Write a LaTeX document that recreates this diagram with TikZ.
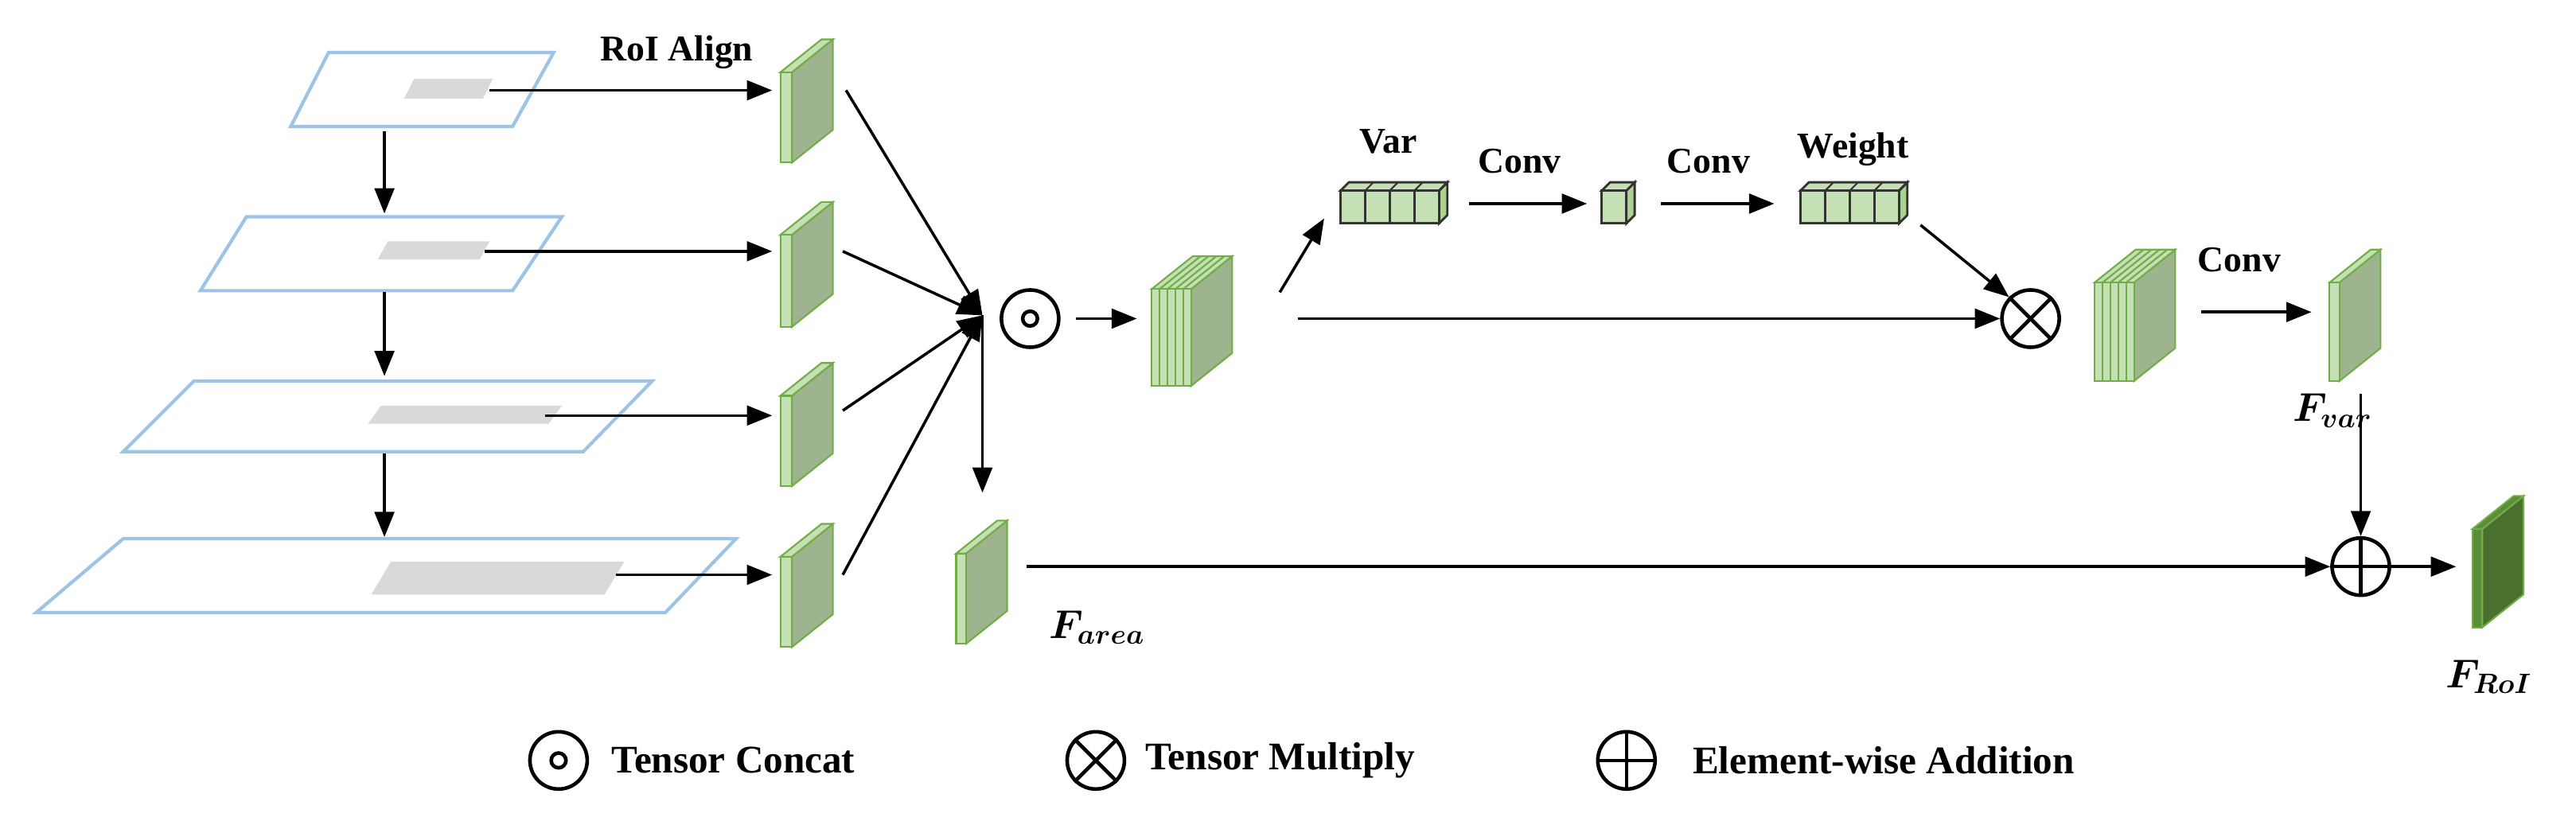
\documentclass[tikz,border=0pt]{standalone}
\usepackage{fontspec}
\usepackage{amsmath,bm}
\setmainfont{Liberation Serif}
\usetikzlibrary{arrows.meta}
\definecolor{gr}{HTML}{70AD47}
\definecolor{lt}{HTML}{C5E0B4}
\definecolor{sd}{HTML}{9DB48E}
\definecolor{dk}{HTML}{5B8C3A}
\definecolor{pl}{HTML}{9DC3E6}
\definecolor{gy}{HTML}{D9D9D9}
\newcommand{\slab}[6]{% x, ytop, ybot, sidefill, frontw, frontfill
 \filldraw[fill=#4,draw=gr,line width=0.6pt] (#1+#5,#2) -- ++(25,-20) -- (#1+#5+25,#3-20) -- (#1+#5,#3) -- cycle;
 \filldraw[fill=#6,draw=gr,line width=0.6pt] (#1,#2) -- ++(25,-20) -- ++(#5,0) -- (#1+#5,#2) -- cycle;
 \filldraw[fill=#6,draw=gr,line width=0.6pt] (#1,#2) rectangle (#1+#5,#3);}
\newcommand{\cube}[4]{% x, ytop, ybot, ncells (cell width 15)
 \filldraw[fill=lt!70!gr,draw=black!80,line width=0.8pt] (#1+#4*15,#2) -- ++(5,-5) -- (#1+#4*15+5,#3-5) -- (#1+#4*15,#3) -- cycle;
 \filldraw[fill=lt,draw=black!80,line width=0.8pt] (#1,#2) -- ++(5,-5) -- (#1+#4*15+5,#2-5) -- (#1+#4*15,#2) -- cycle;
 \filldraw[fill=lt,draw=black!80,line width=0.8pt] (#1,#2) rectangle (#1+#4*15,#3);
 \foreach \i in {1,...,#4}{\draw[black!80,line width=0.8pt] (#1+\i*15,#2) -- (#1+\i*15,#3);
   \draw[black!80,line width=0.6pt] (#1+\i*15,#2) -- ++(5,-5);}}
\begin{document}
\begin{tikzpicture}[x=0.02064cm,y=-0.02064cm,
  arr/.style={-{Triangle[length=9pt,width=7pt]},line width=1pt},
  lbl/.style={font=\fontsize{13}{15}\selectfont\bfseries,inner sep=0},
  op/.style={circle,draw,line width=1.3pt,minimum size=0.72cm,inner sep=0},
  plane/.style={draw=pl,line width=1.2pt}]
\useasboundingbox (0,0) rectangle (1568,502);
% planes
\draw[plane] (200,32) -- (337,32) -- (312,77) -- (177,77) -- cycle;
\fill[gy] (252,48) -- (300,48) -- (294,60) -- (246,60) -- cycle;
\draw[plane] (150,132) -- (342,132) -- (312,177) -- (122,177) -- cycle;
\fill[gy] (236,147) -- (298,147) -- (292,158) -- (230,158) -- cycle;
\draw[plane] (118,232) -- (397,232) -- (355,275) -- (75,275) -- cycle;
\fill[gy] (232,247) -- (342,247) -- (334,258) -- (224,258) -- cycle;
\draw[plane] (75,328) -- (448,328) -- (405,373) -- (22,373) -- cycle;
\fill[gy] (238,342) -- (380,342) -- (368,362) -- (226,362) -- cycle;
\coordinate (p1b) at (234,80); \coordinate (p2t) at (234,130);
\coordinate (p2b) at (234,178); \coordinate (p3t) at (234,229);
\coordinate (p3b) at (234,276); \coordinate (p4t) at (234,327);
\draw[arr] (p1b) -- (p2t); \draw[arr] (p2b) -- (p3t); \draw[arr] (p3b) -- (p4t);
% feature maps
\slab{475}{44}{99}{sd}{7}{lt}
\slab{475}{143}{199}{sd}{7}{lt}
\slab{475}{241}{296}{sd}{7}{lt}
\slab{475}{339}{394}{sd}{7}{lt}
\node[lbl] (roi) at (412,32) {RoI Align};
\coordinate (g1) at (298,55); \coordinate (m1) at (470,55);
\coordinate (g2) at (295,153); \coordinate (m2) at (470,153);
\coordinate (g3) at (332,253); \coordinate (m3) at (470,253);
\coordinate (g4) at (375,350); \coordinate (m4) at (470,350);
\foreach \i in {1,...,4}{\draw[arr] (g\i) -- (m\i);}
% concat
\node[op] (cat) at (627,194) {};
\fill[white,draw=black,line width=1.3pt] (cat) circle (4.5);
\coordinate (hub) at (598,192);
\coordinate (o1) at (515,55); \coordinate (o2) at (513,153);
\coordinate (o3) at (513,250); \coordinate (o4) at (513,350);
\foreach \i in {1,...,4}{\draw[arr] (o\i) -- (hub);}
\coordinate (fa) at (598,300);
\draw[arr] (hub) -- (fa);
\slab{582}{337}{392}{sd}{6}{lt}
\node[lbl,font=\fontsize{14}{16}\selectfont] (farea) at (668,382) {$\bm{F_{area}}$};
% stack
\coordinate (c1) at (655,194); \coordinate (s1) at (692,194);
\draw[arr] (c1) -- (s1);
\slab{701}{176}{235}{sd}{24}{lt}
\foreach \k in {1,...,4}{\draw[gr,line width=0.6pt] (701+\k*4.8,176) -- (701+\k*4.8,235); \draw[gr,line width=0.6pt] (701+\k*4.8,176) -- ++(25,-20);}
% var branch
\coordinate (sv) at (779,178); \coordinate (va) at (806,133);
\draw[arr] (sv) -- (va);
\cube{816}{116}{136}{4}
\node[lbl] (var) at (845,86) {Var};
\coordinate (v1) at (894,124); \coordinate (v2) at (966,124);
\draw[arr] (v1) -- (v2);
\node[lbl] (conv1) at (925,98) {Conv};
\cube{975}{116}{136}{1}
\coordinate (w1) at (1011,124); \coordinate (w2) at (1080,124);
\draw[arr] (w1) -- (w2);
\node[lbl] (conv2) at (1040,98) {Conv};
\cube{1096}{116}{136}{4}
\node[lbl] (weight) at (1128,91) {Weight};
\node[op] (mul) at (1236,194) {};
\draw[line width=1.3pt] (mul.north west) -- (mul.south east) (mul.north east) -- (mul.south west);
\coordinate (wo) at (1169,137);
\draw[arr] (wo) -- (mul.north west);
\coordinate (st) at (790,194);
\draw[arr] (st) -- (mul.west);
% second stack
\slab{1275}{172}{232}{sd}{24}{lt}
\foreach \k in {1,...,4}{\draw[gr,line width=0.6pt] (1275+\k*4.8,172) -- (1275+\k*4.8,232); \draw[gr,line width=0.6pt] (1275+\k*4.8,172) -- ++(25,-20);}
\coordinate (q1) at (1340,190); \coordinate (q2) at (1407,190);
\draw[arr] (q1) -- (q2);
\node[lbl] (conv3) at (1363,158) {Conv};
\slab{1418}{172}{232}{sd}{6}{lt}
\node[lbl,font=\fontsize{14}{16}\selectfont] (fvar) at (1420,250) {$\bm{F_{var}}$};
% addition
\node[op] (add) at (1437,345) {};
\draw[line width=1.3pt] (add.north) -- (add.south) (add.west) -- (add.east);
\coordinate (fv) at (1437,240);
\draw[arr] (fv) -- (add.north);
\coordinate (fab) at (625,345);
\draw[arr] (fab) -- (add.west);
\coordinate (r1) at (1495,345);
\draw[arr] (add.east) -- (r1);
\slab{1505}{322}{382}{dk!80!black}{6}{dk}
\node[lbl,font=\fontsize{14}{16}\selectfont] (froi) at (1515,412) {$\bm{F_{RoI}}$};
% legend
\node[op] (l1) at (340,463) {};
\draw[line width=1.3pt] (l1) circle (4.5);
\node[lbl,font=\fontsize{14}{16}\selectfont\bfseries,anchor=west] (t1) at (372,463) {Tensor Concat};
\node[op] (l2) at (667,463) {};
\draw[line width=1.3pt] (l2.north west) -- (l2.south east) (l2.north east) -- (l2.south west);
\node[lbl,font=\fontsize{14}{16}\selectfont\bfseries,anchor=west] (t2) at (697,463) {Tensor Multiply};
\node[op] (l3) at (990,463) {};
\draw[line width=1.3pt] (l3.north) -- (l3.south) (l3.west) -- (l3.east);
\node[lbl,font=\fontsize{14}{16}\selectfont\bfseries,anchor=west] (t3) at (1030,463) {Element-wise Addition};
\end{tikzpicture}
\end{document}
